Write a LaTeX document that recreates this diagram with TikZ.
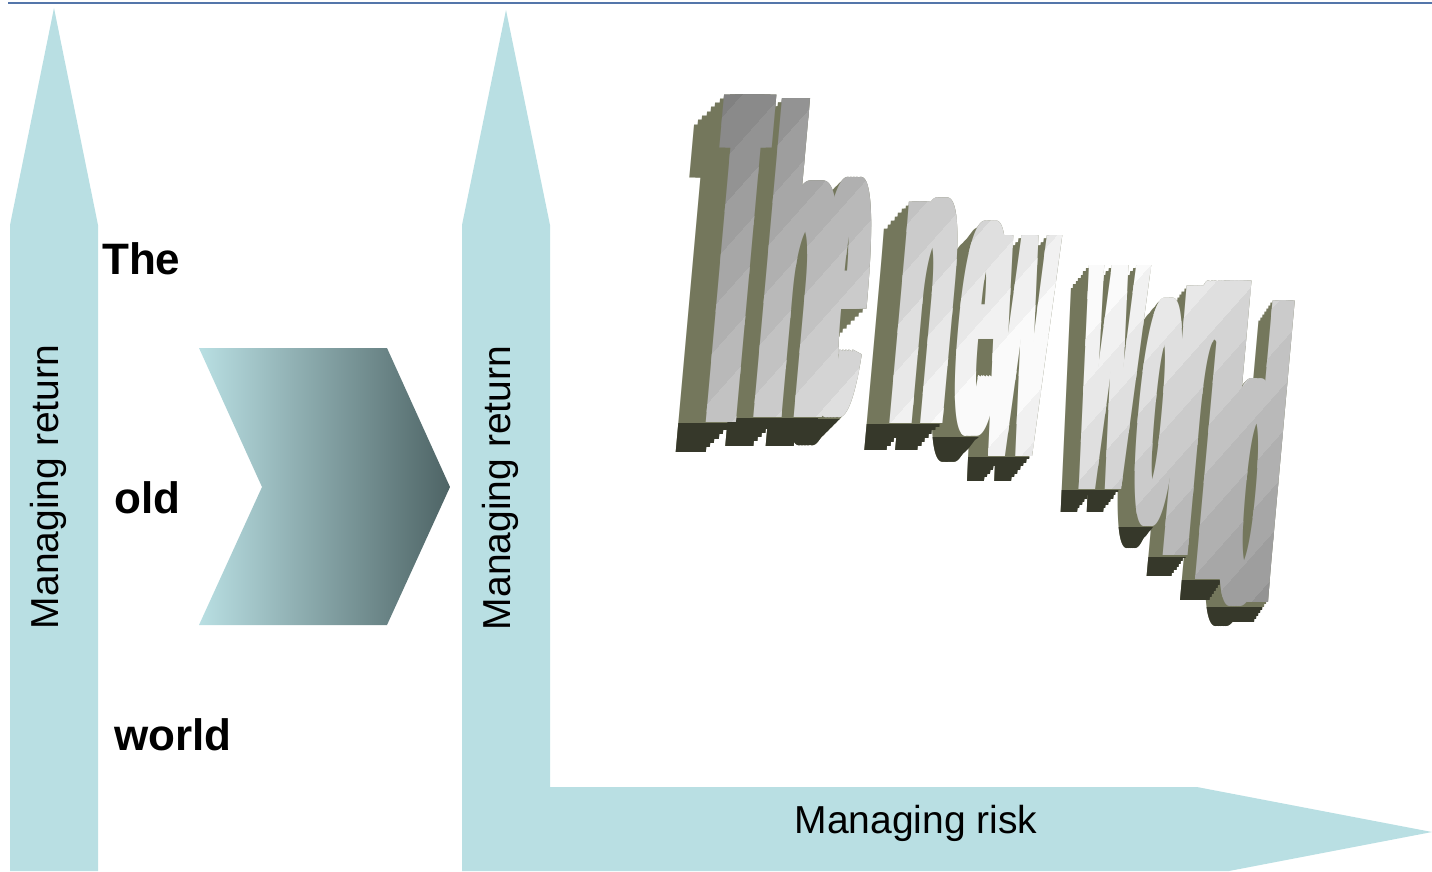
\documentclass[tikz,border=0pt]{standalone}
\usepackage{fontspec}
\setmainfont{Liberation Sans}

\definecolor{arrowblue}{RGB}{185,223,227}
\definecolor{chevdark}{RGB}{78,100,101}
\definecolor{ruleblue}{RGB}{84,118,170}
\definecolor{waolive}{RGB}{116,119,92}
\definecolor{wadark}{RGB}{54,56,42}
\definecolor{wagray}{RGB}{125,125,125}

\tikzset{
  waletter/.style={inner sep=0pt, anchor=south, xslant=0.09,
    font=\bfseries\fontsize{100}{100}\selectfont},
  axislabel/.style={inner sep=0pt, font=\fontsize{39}{47}\selectfont},
  oldword/.style={inner sep=0pt, anchor=base west,
    font=\bfseries\fontsize{44}{53}\selectfont},
}

% word art letters: bottom centre x / baseline y / xscale / yscale / thickening /
% extrusion x / extrusion y / letter
% #1 node options, #2 extrusion steps (of 7), #3 = 1 keeps only what lies below the baseline
\newcommand{\newworld}[3]{%
  \foreach \cx/\by/\sx/\sy/\sm/\ex/\ey/\ch in {
      721/423/0.50/4.76/23/-30/30/T, 787/418/1.18/4.40/12/-28/29/h,
      832/419/0.75/4.39/13/-27/28/e, 916/424/0.90/4.19/10/-25/27/n,
      971/437/0.70/3.93/11/-23/26/e, 1011/457/0.75/4.18/6/-21/25/w,
      1100/490/0.72/4.24/6/-18/23/w, 1148/527/0.60/4.17/8/-17/22/o,
      1180/557/0.80/5.10/14/-16/21/r, 1210/580/1.00/4.12/16/-15/21/l,
      1242/607/0.90/4.16/10/-14/20/d}{
    \begin{scope}
      \ifnum#3=1 \clip (\cx-150,\by) rectangle (\cx+150,\by+40); \fi
      \foreach \k in {#2}{
        \foreach \j in {0,...,4}{
          \node[waletter, #1, xscale=\sx, yscale=\sy]
            at ({\cx-\sm/2+\j*\sm/4+\ex*\k/7},{\by+\ey*\k/7}) {\ch};
        }
      }
    \end{scope}
  }%
}

\begin{document}
\begin{tikzpicture}[x=1pt, y=-1pt]

\useasboundingbox (0,0) rectangle (1432,871);

\draw[ruleblue, line width=2pt] (8,3) -- (1432,3);

\fill[arrowblue] (10,871) -- (10,225) -- (54,8) -- (98,225) -- (98,871) -- cycle;
\fill[arrowblue] (462,871) -- (462,225) -- (506,10) -- (550,225) -- (550,787)
  -- (1197,787) -- (1432,832) -- (1229,871) -- cycle;

\shade[left color=arrowblue, right color=chevdark]
  (199,348) -- (387,348) -- (450,487) -- (387,625) -- (199,625) -- (262,487) -- cycle;

\node[axislabel, rotate=90] (oldreturn) at (48,487) {Managing return};
\node[axislabel, rotate=90] (newreturn) at (500,488) {Managing return};
\node[axislabel] (newrisk) at (916,823) {Managing risk};

\node[oldword] (the) at (102,274) {The};
\node[oldword] (old) at (114,513) {old};
\node[oldword] (world) at (114,750) {world};

% extruded sides, dark undersides, then the front faces in diagonal bands
\newworld{text=waolive}{0,...,7}{0}
\newworld{text=wadark}{0,...,7}{1}
\foreach \u in {-560,-520,...,520}{
  \pgfmathtruncatemacro{\facepct}{100-abs(\u+20)/5.6}
  \colorlet{waface}{white!\facepct!wagray}
  \begin{scope}
    \clip (1335+\u+100,-100) -- (1335+\u+146,-100) -- (1335+\u-654,800)
      -- (1335+\u-700,800) -- cycle;
    \newworld{text=waface}{0}{0}
  \end{scope}
}

\end{tikzpicture}
\end{document}
